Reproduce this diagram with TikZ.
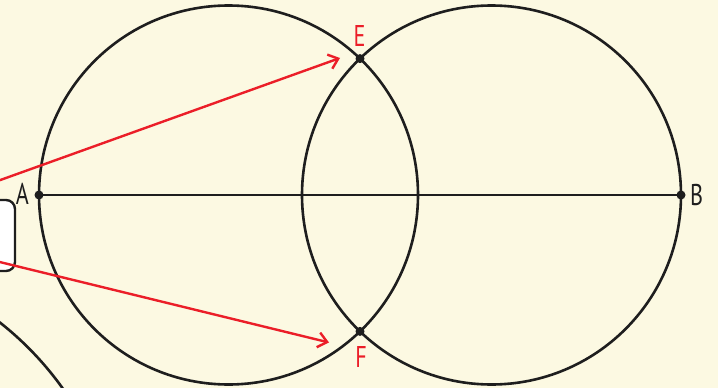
\documentclass[tikz,border=0pt]{standalone}
\usepackage{fontspec}
\setmainfont{PT Sans}
\usetikzlibrary{arrows.meta}
\definecolor{bg}{RGB}{252,249,226}
\definecolor{ink}{RGB}{30,30,30}
\definecolor{redline}{RGB}{235,30,40}
\newcommand\narrowlbl[1]{\scalebox{0.74}[1]{#1}}
\tikzset{
  geo/.style={draw=ink, line width=2.6pt},
  dotpt/.style={circle, fill=ink, inner sep=0pt, minimum size=9pt},
  redarrow/.style={draw=redline, line width=2.4pt, -{Straight Barb[length=9pt,width=15pt,line width=2.4pt]}},
  lblblack/.style={text=ink, font=\fontsize{30}{30}\selectfont, inner sep=0pt},
  lblred/.style={text=redline, font=\fontsize{30}{30}\selectfont, inner sep=0pt}
}
\begin{document}
\begin{tikzpicture}[x=1pt,y=-1pt]
\useasboundingbox (0,0) rectangle (718,388);
\fill[bg] (0,0) rectangle (718,388);
\begin{scope}
\clip (0,0) rectangle (718,388);
% partial circle bottom-left
\draw[geo] (-198,574) circle[radius=320];
% rounded box at left
\draw[ink, line width=2.4pt, fill=white, rounded corners=9pt] (-30,200) rectangle (15,271);
% main circles
\draw[geo] (228.5,195) circle[radius=189.5];
\draw[geo] (491.5,195) circle[radius=189.5];
% points
\node[dotpt] (A) at (39,195) {};
\node[dotpt] (B) at (681,195) {};
\node[dotpt] (E) at (360,58.6) {};
\node[dotpt] (F) at (360,331.4) {};
\draw[geo] (A.center) -- (B.center);
% red arrows
\coordinate (s1) at (-40,194.5);
\coordinate (t1) at (340,58);
\coordinate (s2) at (-40,252.3);
\coordinate (t2) at (329,342.5);
\draw[redarrow] (s1) -- (t1);
\draw[redarrow] (s2) -- (t2);
\end{scope}
% labels
\node[lblblack, anchor=base east] (la) at (29,204) {\narrowlbl{A}};
\node[lblblack, anchor=base west] (lb) at (690,205) {\narrowlbl{B}};
\node[lblred, anchor=base] (le) at (359.5,46) {\narrowlbl{E}};
\node[lblred, anchor=base] (lf) at (361,367) {\narrowlbl{F}};
\end{tikzpicture}
\end{document}
